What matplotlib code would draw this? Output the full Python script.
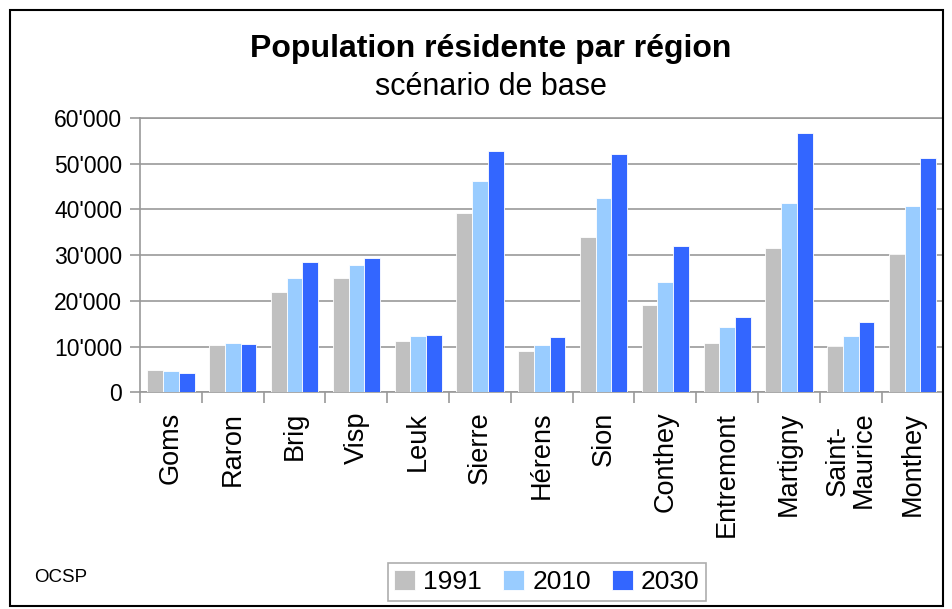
import numpy as np
import matplotlib
matplotlib.use("Agg")
from matplotlib import pyplot as plt
from matplotlib.ticker import FuncFormatter, MultipleLocator
from matplotlib.patches import Rectangle

plt.rcParams["font.family"] = ["Liberation Sans", "DejaVu Sans"]

regions = ["Goms", "Raron", "Brig", "Visp", "Leuk", "Sierre", "Hérens", "Sion",
           "Conthey", "Entremont", "Martigny", "Saint-\nMaurice", "Monthey"]
pop_1991 = [4900, 10400, 22000, 24900, 11200, 39200, 9000, 33900, 19100, 10800, 31500, 10100, 30200]
pop_2010 = [4600, 10800, 24900, 27900, 12300, 46200, 10300, 42500, 24200, 14300, 41400, 12300, 40700]
pop_2030 = [4200, 10600, 28400, 29300, 12500, 52800, 12100, 52200, 31900, 16500, 56800, 15400, 51300]
years = ["1991", "2010", "2030"]
colors = ["#C0C0C0", "#99CCFF", "#3366FF"]

fig = plt.figure(figsize=(9.53, 6.09), dpi=100)
ax = fig.add_axes([0.147, 0.356, 0.843, 0.450])

x = np.arange(len(regions))
w = 0.255
for i, (vals, lab, c) in enumerate(zip([pop_1991, pop_2010, pop_2030], years, colors)):
    ax.bar(x + (i - 1) * w, vals, width=w, color=c, label=lab,
           edgecolor="white", linewidth=0.6, zorder=3)

ax.set_xlim(-0.5, len(regions) - 0.5)
ax.set_ylim(0, 60000)
ax.yaxis.set_major_locator(MultipleLocator(10000))
ax.yaxis.set_major_formatter(FuncFormatter(lambda v, p: f"{int(v):,}".replace(",", "'")))
ax.grid(axis="y", color="#999999", linewidth=1.2, zorder=0)

ax.set_xticks(x)
ax.set_xticklabels(regions, rotation=90, fontsize=19.5, va="top", ha="center", linespacing=1.0)
ax.set_xticks(np.arange(-0.5, len(regions)), minor=True)
ax.tick_params(axis="x", which="major", length=0, pad=14)
ax.tick_params(axis="x", which="minor", length=8, color="#999999", width=1.2)
ax.tick_params(axis="y", labelsize=16.5, length=7, color="#999999", width=1.2, pad=6)

for s in ["left", "bottom", "top", "right"]:
    ax.spines[s].set_color("#999999")
    ax.spines[s].set_linewidth(1.2)

fig.text(0.515, 0.92, "Population résidente par région", ha="center", va="center",
         fontsize=23, fontweight="bold")
fig.text(0.515, 0.857, "scénario de base", ha="center", va="center", fontsize=22)
fig.text(0.036, 0.051, "OCSP", ha="left", va="center", fontsize=13.5)

leg = fig.legend(loc="center", bbox_to_anchor=(0.574, 0.0445), ncol=3, fontsize=19,
                 frameon=True, fancybox=False, edgecolor="#999999",
                 handlelength=0.8, handleheight=0.8, handletextpad=0.3,
                 columnspacing=0.8, borderpad=0.25)
leg.get_frame().set_linewidth(1.2)

fig.patches.append(Rectangle((0.011, 0.005), 0.978, 0.978, transform=fig.transFigure,
                             fill=False, edgecolor="black", linewidth=1.5))

fig.savefig("out.png", dpi=100)
